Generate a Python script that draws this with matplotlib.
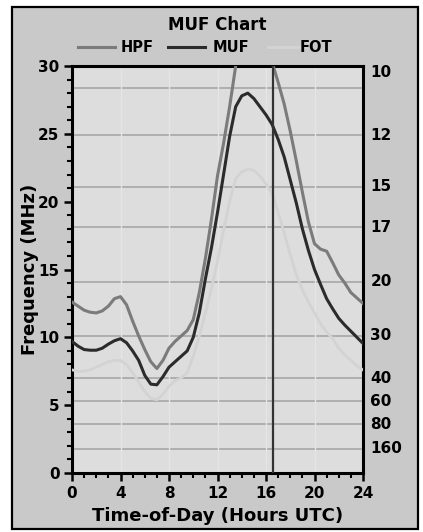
import matplotlib
matplotlib.use("Agg")
import matplotlib.pyplot as plt
import matplotlib.transforms as mtransforms
from matplotlib.patches import Rectangle
import numpy as np

# time of day, hours UTC (half-hour steps)
hours = np.arange(0, 24.5, 0.5)

hpf = [12.6, 12.3, 12.0, 11.85, 11.8, 11.95, 12.3, 12.85, 13.0, 12.4,
       11.2, 10.1, 9.1, 8.2, 7.7, 8.3, 9.2, 9.7, 10.1, 10.5,
       11.3, 13.3, 15.8, 18.7, 21.9, 24.3, 27.0, 30.0, 32.5, 34.0,
       34.5, 34.0, 32.5, 30.3, 28.8, 27.2, 25.2, 23.0, 20.7, 18.5,
       16.9, 16.5, 16.35, 15.5, 14.6, 14.0, 13.3, 12.9, 12.5]

muf = [9.7, 9.35, 9.1, 9.05, 9.05, 9.2, 9.5, 9.75, 9.9, 9.6,
       9.0, 8.3, 7.2, 6.55, 6.5, 7.1, 7.8, 8.2, 8.6, 9.0,
       10.0, 11.8, 14.3, 16.6, 19.2, 22.0, 24.8, 27.0, 27.8, 28.0,
       27.6, 27.0, 26.4, 25.7, 24.6, 23.3, 21.6, 19.9, 18.0, 16.4,
       15.0, 13.9, 12.85, 12.1, 11.4, 10.9, 10.45, 10.0, 9.55]

fot = [7.6, 7.5, 7.5, 7.6, 7.8, 8.0, 8.2, 8.3, 8.3, 8.0,
       7.4, 6.7, 6.0, 5.5, 5.4, 5.8, 6.4, 6.8, 7.0, 7.4,
       8.6, 10.1, 11.8, 13.6, 15.6, 17.9, 20.0, 21.7, 22.2, 22.4,
       22.3, 21.9, 21.3, 20.6, 19.2, 17.7, 16.1, 14.6, 13.5, 12.6,
       11.8, 11.0, 10.4, 9.9, 9.2, 8.7, 8.3, 7.9, 7.6]

# amateur band lines (MHz) and their labels (metres)
band_freq = [28.4, 24.9, 21.1, 18.1, 14.1, 10.1, 7.0, 5.3, 3.6, 1.8]
band_label = ["10", "12", "15", "17", "20", "30", "40", "60", "80", "160"]
band_label_y = [29.5, 24.9, 21.1, 18.1, 14.1, 10.1, 7.0, 5.3, 3.6, 1.8]

now_utc = 16.58

plt.rcParams['font.family'] = 'DejaVu Sans'
plt.rcParams['font.weight'] = 'bold'

W, H = 423, 532
fig = plt.figure(figsize=(W / 100, H / 100), dpi=100, facecolor='white')

# grey panel with black frame
fig.patches.append(Rectangle((12 / W, 1 - 529 / H), 406 / W, 522 / H,
                             transform=fig.transFigure, facecolor='#c9c9c9',
                             edgecolor='black', linewidth=1.6, zorder=-10))

ax = fig.add_axes([72 / W, 1 - 473 / H, 291 / W, 407 / H])
ax.set_facecolor('#dddddd')

for f in band_freq:
    ax.axhline(f, color='#a6a6a6', lw=1.2, zorder=1)
for h in range(4, 24, 4):
    ax.axvline(h, color='#e5e5e5', lw=1.0, zorder=1)

ax.plot(hours, fot, color='#d3d3d3', lw=2.0, zorder=3)
ax.plot(hours, hpf, color='#7b7b7b', lw=2.2, zorder=4)
ax.plot(hours, muf, color='#2b2b2b', lw=2.2, zorder=5)
ax.axvline(now_utc, color='#333333', lw=1.6, zorder=6)

ax.set_xlim(0, 24)
ax.set_ylim(0, 30)
ax.set_xticks(range(0, 25, 4))
ax.set_xticks(range(0, 25), minor=True)
ax.set_yticks(range(0, 31, 5))
ax.set_yticks(range(0, 31), minor=True)
ax.tick_params(which='major', length=6, width=1.8, labelsize=11, pad=3)
ax.tick_params(which='minor', length=3.5, width=1.5)
ax.tick_params(axis='y', right=False, which='both')
for lab in ax.get_xticklabels() + ax.get_yticklabels():
    lab.set_fontweight('bold')
for s in ax.spines.values():
    s.set_linewidth(2.2)

trans = mtransforms.blended_transform_factory(ax.transAxes, ax.transData)
for lbl, y in zip(band_label, band_label_y):
    ax.text(1.025, y, lbl, transform=trans, ha='left', va='center',
            fontsize=11, fontweight='bold')

ax.set_xlabel('Time-of-Day (Hours UTC)', fontsize=13, fontweight='bold',
              labelpad=5)
ax.set_ylabel('Frequency (MHz)', fontsize=13, fontweight='bold')
ax.yaxis.set_label_coords(-0.115, 0.5)

fig.text(217 / W, 1 - 25 / H, 'MUF Chart', ha='center', va='center',
         fontsize=12, fontweight='bold')

# legend row
legend_items = [('HPF', '#7b7b7b', 78, 121), ('MUF', '#2b2b2b', 168, 213),
                ('FOT', '#d3d3d3', 268, 300)]
ly = 1 - 47 / H
for name, col, x0, xt in legend_items:
    fig.add_artist(plt.Line2D([x0 / W, (x0 + 37) / W], [ly, ly],
                              color=col, lw=2.2, transform=fig.transFigure))
    fig.text(xt / W, ly, name, ha='left', va='center', fontsize=10.5,
             fontweight='bold')

fig.savefig('out.png', dpi=100, facecolor='white')
